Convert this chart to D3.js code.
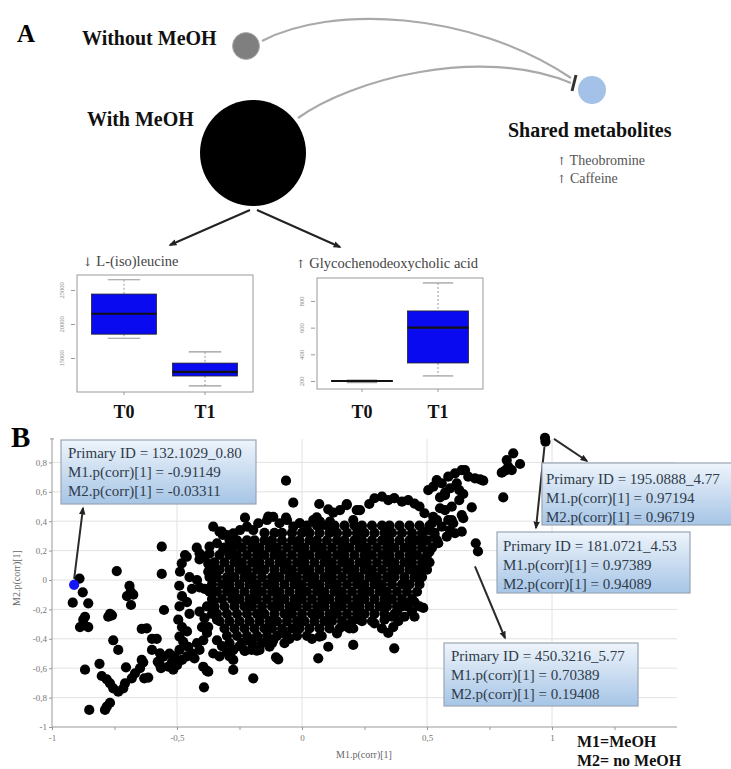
<!DOCTYPE html>
<html>
<head>
<meta charset="utf-8">
<script src="https://cdn.jsdelivr.net/npm/d3@7"></script>
<style>
body { margin: 0; background: #fff; }
svg { display: block; }
svg text { font-family: "Liberation Serif", "Times New Roman", serif; }
</style>
</head>
<body>
<svg width="731" height="769"></svg>
<script>
/// Data ///
var groups = ["T0", "T1"];
// L-(iso)leucine box stats (T0, T1)
var leuMin = [17900, 10900], leuQ1 = [18500, 12350], leuMed = [21500, 12950], leuQ3 = [24400, 14250], leuMax = [26500, 15900];
var leuTicks = [15000, 20000, 25000];
// Glycochenodeoxycholic acid box stats (T0, T1)
var glyMin = [188, 238], glyQ1 = [198, 335], glyMed = [200, 600], glyQ3 = [204, 725], glyMax = [207, 935];
var glyTicks = [200, 400, 600, 800];

var xTicks = [-1, -0.5, 0, 0.5, 1];
var xMinor = [-0.75, -0.25, 0.25, 0.75, 1.25];
var yTicks = [-1, -0.8, -0.6, -0.4, -0.2, 0, 0.2, 0.4, 0.6, 0.8];

// annotated metabolites
var annIds = ["132.1029_0.80", "195.0888_4.77", "181.0721_4.53", "450.3216_5.77"];
var annM1 = [-0.91149, 0.97194, 0.97389, 0.70389];
var annM2 = [-0.03311, 0.96719, 0.94089, 0.19408];

// scattered points around the cloud [M1, M2]
var outliers = [
  [-0.89,0.01],[-0.877,-0.084],[-0.917,-0.154],[-0.855,-0.159],[-0.868,-0.25],[-0.875,-0.27],[-0.888,-0.32],[-0.855,-0.32],[-0.868,-0.61],[-0.851,-0.884],
  [-0.741,0.061],[-0.69,-0.04],[-0.685,-0.08],[-0.675,-0.1],[-0.7,-0.11],[-0.684,-0.17],[-0.768,-0.23],[-0.76,-0.24],[-0.775,-0.25],[-0.755,-0.41],[-0.735,-0.476],[-0.81,-0.57],
  [-0.801,-0.653],[-0.781,-0.676],[-0.768,-0.703],[-0.755,-0.737],[-0.735,-0.76],[-0.715,-0.737],[-0.708,-0.703],[-0.681,-0.669],[-0.704,-0.594],[-0.668,-0.635],[-0.648,-0.6],[-0.631,-0.669],[-0.641,-0.544],[-0.635,-0.56],
  [-0.788,-0.884],[-0.781,-0.862],[-0.768,-0.835],
  [-0.581,-0.40],[-0.641,-0.333],[-0.621,-0.329],[-0.60,-0.40],
  [-0.561,0.227],[-0.561,0.041],[-0.552,-0.204],
  [-0.6,-0.476],[-0.568,-0.499],[-0.555,-0.522],[-0.577,-0.556],[-0.568,-0.578],[-0.564,-0.6],[-0.615,-0.664],
  [-0.491,-0.039],[-0.488,0.056],[-0.481,0.113],[-0.468,0.17],[-0.461,0.158],[-0.421,0.22],
  [-0.41,0.14],[-0.39,0.16],[-0.37,0.18],[-0.375,0.11],
  [-0.45,0.02],[-0.42,0.0],[-0.44,-0.06],[-0.41,-0.05],[-0.39,-0.06],[-0.355,0.02],[-0.375,0.056],
  [-0.48,-0.11],[-0.46,-0.15],[-0.49,-0.18],[-0.45,-0.23],
  [-0.495,-0.27],[-0.48,-0.32],[-0.46,-0.35],[-0.49,-0.385],[-0.475,-0.42],[-0.455,-0.455],[-0.49,-0.476],
  [-0.53,-0.5],[-0.51,-0.52],[-0.52,-0.556],[-0.535,-0.59],[-0.515,-0.61],[-0.5,-0.58],[-0.48,-0.544],[-0.46,-0.52],[-0.43,-0.533],[-0.44,-0.5],[-0.41,-0.476],[-0.42,-0.43],[-0.395,-0.41],[-0.38,-0.36],[-0.40,-0.32],
  [-0.41,-0.215],[-0.38,-0.18],[-0.355,-0.15],[-0.39,-0.26],[-0.36,-0.23],[-0.34,-0.27],[-0.375,-0.32],
  [-0.34,-0.41],[-0.32,-0.45],[-0.355,-0.5],[-0.33,-0.52],[-0.30,-0.49],[-0.275,-0.476],[-0.29,-0.52],[-0.25,-0.45],
  [-0.395,-0.59],[-0.375,-0.624],[-0.392,-0.73],[-0.381,-0.617],[-0.275,-0.612],[-0.275,-0.544],[-0.195,-0.669],
  [-0.228,-0.483],[-0.201,-0.476],[-0.175,-0.471],
  [-0.321,0.329],[-0.317,0.306],[-0.228,0.424],[-0.135,0.431],
  [-0.355,0.363],[-0.33,0.329],[-0.30,0.306],[-0.275,0.318],[-0.248,0.34],[-0.22,0.363],[-0.195,0.34],[-0.175,0.386],[-0.29,0.272],[-0.26,0.238],[-0.34,0.25],[-0.37,0.227],[-0.315,0.204],[-0.41,0.182],
  [-0.14,0.408],[-0.115,0.43],[-0.09,0.386],[-0.06,0.408],[-0.035,0.363],[-0.01,0.386],[0.045,0.408],[0.07,0.363],
  [-0.064,0.676],[-0.035,0.526],[-0.064,0.424],[-0.008,0.386],
  [0.059,0.426],[0.072,0.397],[0.112,0.397],[0.069,0.517],[0.105,0.481],[0.125,0.458],[0.179,0.517],[0.219,0.476],[0.269,0.517],[0.368,0.556],
  [0.152,0.476],[0.179,0.51],[0.232,0.476],[0.205,0.408],
  [-0.215,-0.41],[-0.18,-0.385],[-0.14,-0.42],[-0.115,-0.41],[-0.075,-0.36],[-0.05,-0.40],[-0.02,-0.34],[-0.17,-0.476],[-0.13,-0.454],
  [-0.095,-0.54],[-0.104,-0.526],[0.065,-0.533],[0.205,-0.442],[0.105,-0.454],[0.079,-0.381],
  [0.14,-0.363],[0.18,-0.318],[0.205,-0.33],[0.23,-0.27],[0.04,-0.40],[0.07,-0.385],
  [0.29,-0.295],[0.32,-0.33],[0.345,-0.36],[0.33,-0.27],[0.36,-0.25],[0.38,-0.215],[0.40,-0.18],[0.425,-0.16],[0.45,-0.15],[0.47,-0.18],[0.485,-0.19],[0.44,-0.215],[0.41,-0.25],[0.385,-0.28],[0.365,-0.32],[0.45,-0.25],[0.369,-0.465],
  [0.47,0.50],[0.49,0.454],[0.52,0.386],[0.54,0.408],[0.525,0.43],[0.505,0.34],[0.53,0.306],[0.545,0.25],[0.49,0.272],[0.51,0.193],[0.49,0.136],[0.48,0.068],[0.465,0.022],
  [0.45,0.52],[0.425,0.544],[0.40,0.533],[0.37,0.556],[0.345,0.544],[0.32,0.567],[0.29,0.556],
  [0.572,0.578],[0.599,0.499],[0.572,0.476],[0.552,0.488],[0.585,0.408],[0.605,0.386],[0.559,0.363],[0.592,0.34],[0.612,0.318],[0.579,0.295],
  [0.525,0.635],[0.505,0.612],[0.539,0.68],[0.559,0.658],[0.585,0.703],[0.612,0.726],[0.639,0.748],
  [0.592,0.624],[0.572,0.594],[0.552,0.562],[0.619,0.658],[0.629,0.612],[0.645,0.585],[0.629,0.544],
  [0.652,0.748],[0.665,0.703],[0.692,0.692],[0.712,0.685],[0.725,0.676],
  [0.679,0.494],[0.639,0.442],[0.645,0.42],[0.639,0.329],[0.599,0.408],[0.695,0.25],
  [0.805,0.562],[0.845,0.862],[0.819,0.816],[0.825,0.771],[0.799,0.73],[0.812,0.744],[0.839,0.748],[0.872,0.789]
];

// dense core of the cloud, read row by row: M2 value and the M1 values on it
var cloudY = [0.37, 0.32, 0.27, 0.22, 0.17, 0.12, 0.07, 0.02, -0.03, -0.08, -0.13, -0.18, -0.23, -0.28, -0.33, -0.38, -0.43, -0.48];
var cloudX = [
  [0.02,0.06,0.10,0.13,0.17,0.21,0.24,0.28,0.32,0.35,0.39,0.43,0.47,0.51],
  [-0.15,-0.11,-0.08,-0.04,0.00,0.03,0.07,0.11,0.14,0.18,0.22,0.25,0.29,0.33,0.36,0.40,0.44,0.48,0.53],
  [-0.26,-0.22,-0.19,-0.15,-0.12,-0.08,-0.04,-0.01,0.03,0.06,0.10,0.14,0.17,0.21,0.24,0.28,0.32,0.35,0.39,0.43,0.46,0.50,0.54],
  [-0.31,-0.28,-0.24,-0.20,-0.17,-0.13,-0.10,-0.06,-0.02,0.01,0.05,0.08,0.12,0.16,0.19,0.23,0.26,0.30,0.34,0.37,0.41,0.44,0.48,0.52],
  [-0.33,-0.29,-0.26,-0.22,-0.18,-0.15,-0.11,-0.08,-0.04,0.00,0.03,0.07,0.10,0.14,0.17,0.21,0.25,0.28,0.32,0.35,0.39,0.43,0.46,0.50],
  [-0.35,-0.31,-0.27,-0.24,-0.20,-0.17,-0.13,-0.09,-0.06,-0.02,0.01,0.05,0.09,0.12,0.16,0.19,0.23,0.26,0.30,0.34,0.37,0.41,0.44,0.48,0.51],
  [-0.36,-0.33,-0.29,-0.25,-0.22,-0.18,-0.15,-0.11,-0.07,-0.04,0.00,0.03,0.07,0.11,0.14,0.18,0.21,0.25,0.28,0.32,0.36,0.39,0.43,0.46,0.50],
  [-0.37,-0.34,-0.30,-0.27,-0.23,-0.20,-0.16,-0.12,-0.09,-0.05,-0.02,0.02,0.05,0.09,0.12,0.16,0.20,0.23,0.27,0.30,0.34,0.37,0.41,0.45,0.48],
  [-0.36,-0.32,-0.29,-0.25,-0.21,-0.18,-0.14,-0.11,-0.07,-0.03,0.00,0.04,0.07,0.11,0.14,0.18,0.22,0.25,0.29,0.32,0.36,0.40,0.43,0.47],
  [-0.37,-0.34,-0.30,-0.27,-0.23,-0.19,-0.16,-0.12,-0.09,-0.05,-0.01,0.02,0.06,0.09,0.13,0.16,0.20,0.24,0.27,0.31,0.34,0.38,0.42,0.46],
  [-0.36,-0.32,-0.28,-0.25,-0.21,-0.18,-0.14,-0.10,-0.07,-0.03,0.00,0.04,0.08,0.11,0.15,0.18,0.22,0.25,0.29,0.33,0.36,0.40,0.44],
  [-0.35,-0.31,-0.27,-0.23,-0.20,-0.16,-0.12,-0.09,-0.05,-0.02,0.02,0.06,0.09,0.13,0.16,0.20,0.23,0.27,0.31,0.34,0.38,0.42],
  [-0.34,-0.30,-0.26,-0.22,-0.18,-0.15,-0.11,-0.07,-0.04,0.00,0.04,0.07,0.11,0.14,0.18,0.22,0.25,0.29,0.33,0.37],
  [-0.33,-0.29,-0.25,-0.21,-0.17,-0.13,-0.10,-0.06,-0.02,0.01,0.05,0.09,0.12,0.16,0.20,0.24,0.28],
  [-0.31,-0.27,-0.23,-0.19,-0.15,-0.12,-0.08,-0.04,-0.01,0.03,0.07,0.11,0.15,0.19],
  [-0.30,-0.26,-0.22,-0.18,-0.14,-0.10,-0.06,-0.02,0.02],
  [-0.29,-0.24,-0.20,-0.16,-0.12,-0.07],
  [-0.28,-0.23,-0.18]
];

/// Settings ///
var svg = d3.select("svg");
var defs = svg.append("defs");

var grad = defs.append("linearGradient").attr("id", "boxfill")
    .attr("x1", 0).attr("y1", 0).attr("x2", 0).attr("y2", 1);
grad.append("stop").attr("offset", "0%").attr("stop-color", "#eef4fb");
grad.append("stop").attr("offset", "100%").attr("stop-color", "#a6c5e6");

defs.append("marker").attr("id", "head")
    .attr("viewBox", "0 0 10 10").attr("refX", 8).attr("refY", 5)
    .attr("markerWidth", 4).attr("markerHeight", 4).attr("orient", "auto")
  .append("path").attr("d", "M0,1 L10,5 L0,9 z").attr("fill", "#222");

// text with a leading arrow glyph (arrow taken from a font that has it)
function arrowText(sel, arrow, label) {
  sel.append("tspan").attr("font-family", "DejaVu Serif").attr("font-size", "0.8em").text(arrow);
  sel.append("tspan").text(" " + label);
  return sel;
}

/// PANEL A ///
svg.append("text").attr("x", 17).attr("y", 42).attr("font-size", 25).attr("font-weight", "bold").text("A");
svg.append("text").attr("x", 82).attr("y", 45).attr("font-size", 20).attr("font-weight", "bold").attr("fill", "#111").text("Without MeOH");
svg.append("text").attr("x", 87).attr("y", 126).attr("font-size", 20).attr("font-weight", "bold").attr("fill", "#111").text("With MeOH");

var arcs = ["M262,41 C330,5 470,10 571,78", "M298,118 C350,80 480,45 571,83"];
svg.selectAll(".arc").data(arcs).enter().append("path")
    .attr("d", function(d) { return d; }).attr("fill", "none")
    .attr("stroke", "#a9a9a9").attr("stroke-width", 2.2);
svg.append("line").attr("x1", 576).attr("y1", 75).attr("x2", 572).attr("y2", 91)
    .attr("stroke", "#333").attr("stroke-width", 3);

svg.append("circle").attr("cx", 246).attr("cy", 46).attr("r", 13.5).attr("fill", "#7f7f7f").attr("stroke", "#b0b0b0").attr("stroke-width", 1);
svg.append("circle").attr("cx", 253).attr("cy", 153).attr("r", 53).attr("fill", "#000");
svg.append("circle").attr("cx", 592).attr("cy", 90).attr("r", 14).attr("fill", "#a4c2e8");

svg.append("text").attr("x", 508).attr("y", 137).attr("font-size", 20).attr("font-weight", "bold").attr("fill", "#111").text("Shared metabolites");
arrowText(svg.append("text").attr("x", 557).attr("y", 165).attr("font-size", 14).attr("fill", "#555"), "\u2191", "Theobromine");
arrowText(svg.append("text").attr("x", 557).attr("y", 183).attr("font-size", 14).attr("fill", "#555"), "\u2191", "Caffeine");

svg.append("line").attr("x1", 250).attr("y1", 210).attr("x2", 170).attr("y2", 245)
    .attr("stroke", "#222").attr("stroke-width", 2).attr("marker-end", "url(#head)");
svg.append("line").attr("x1", 257).attr("y1", 210).attr("x2", 340).attr("y2", 247)
    .attr("stroke", "#222").attr("stroke-width", 2).attr("marker-end", "url(#head)");

function boxPlot(frame, dom, ticks, centers, bw, st, arrow, title, tx, ty) {
  var g = svg.append("g");
  var y = d3.scaleLinear().domain(dom).range([frame.y1, frame.y0]);
  var x = d3.scalePoint().domain(groups).range(centers);

  arrowText(g.append("text").attr("x", tx).attr("y", ty).attr("font-size", 14.5).attr("fill", "#444"), arrow, title);
  g.append("rect").attr("x", frame.x0).attr("y", frame.y0)
      .attr("width", frame.x1 - frame.x0).attr("height", frame.y1 - frame.y0)
      .attr("fill", "none").attr("stroke", "#9a9a9a").attr("stroke-width", 1);

  var ya = d3.axisLeft(y).tickValues(ticks).tickSize(4).tickFormat(d3.format("d"));
  var ay = g.append("g").attr("transform", "translate(" + (frame.x0 - 2) + ",0)").call(ya);
  ay.select(".domain").remove();
  ay.selectAll("line").attr("stroke", "#999");
  ay.selectAll("text").attr("font-size", 6.5).attr("fill", "#888").attr("font-family", "Liberation Serif")
      .attr("x", 0).attr("dy", null).attr("text-anchor", "middle")
      .attr("transform", "translate(-11,0) rotate(-90)");

  groups.forEach(function(grp, i) {
    var cx = x(grp);
    g.append("line").attr("x1", cx).attr("x2", cx).attr("y1", frame.y1).attr("y2", frame.y1 + 3).attr("stroke", "#999");
    g.append("line").attr("x1", cx).attr("x2", cx).attr("y1", y(st.max[i])).attr("y2", y(st.q3[i]))
        .attr("stroke", "#999").attr("stroke-dasharray", "2,2");
    g.append("line").attr("x1", cx).attr("x2", cx).attr("y1", y(st.q1[i])).attr("y2", y(st.min[i]))
        .attr("stroke", "#999").attr("stroke-dasharray", "2,2");
    [st.max[i], st.min[i]].forEach(function(v) {
      g.append("line").attr("x1", cx - bw / 4).attr("x2", cx + bw / 4).attr("y1", y(v)).attr("y2", y(v))
          .attr("stroke", "#999").attr("stroke-width", 1.2);
    });
    g.append("rect").attr("x", cx - bw / 2).attr("y", y(st.q3[i]))
        .attr("width", bw).attr("height", Math.max(1, y(st.q1[i]) - y(st.q3[i])))
        .attr("fill", "#0a0af0").attr("stroke", "#222").attr("stroke-width", 0.8);
    g.append("line").attr("x1", cx - bw / 2).attr("x2", cx + bw / 2).attr("y1", y(st.med[i])).attr("y2", y(st.med[i]))
        .attr("stroke", "#111").attr("stroke-width", 2.2);
    g.append("text").attr("x", cx).attr("y", 418).attr("text-anchor", "middle")
        .attr("font-size", 18).attr("font-weight", "bold").attr("fill", "#111").text(grp);
  });
}

boxPlot({x0: 77, x1: 253, y0: 275, y1: 392}, [10000, 27200], leuTicks, [124, 205], 65,
  {min: leuMin, q1: leuQ1, med: leuMed, q3: leuQ3, max: leuMax}, "\u2193", "L-(iso)leucine", 83, 266);
boxPlot({x0: 317, x1: 483, y0: 278, y1: 389}, [140, 972], glyTicks, [362, 438], 61,
  {min: glyMin, q1: glyQ1, med: glyMed, q3: glyQ3, max: glyMax}, "\u2191", "Glycochenodeoxycholic acid", 296, 268);

/// PANEL B ///
var x = d3.scaleLinear().domain([-1, 1.5]).range([52, 677]);
var y = d3.scaleLinear().domain([-1, 1]).range([727, 433]);
var yTop = y(0.96);

svg.append("text").attr("x", 11).attr("y", 447).attr("font-size", 29).attr("font-weight", "bold").text("B");

var grid = svg.append("g").attr("stroke", "#e2e2e2").attr("stroke-width", 1);
grid.selectAll(".gy").data(yTicks.filter(function(d) { return d > -1; })).enter().append("line")
    .attr("x1", x(-1)).attr("x2", x(1.5)).attr("y1", function(d) { return y(d); }).attr("y2", function(d) { return y(d); });
grid.selectAll(".gx").data(xTicks.filter(function(d) { return d > -1; })).enter().append("line")
    .attr("y1", yTop).attr("y2", y(-1)).attr("x1", function(d) { return x(d); }).attr("x2", function(d) { return x(d); });

var fmt = function(d) { return String(Math.round(d * 10) / 10).replace(".", ","); };

var ax = svg.append("g").attr("transform", "translate(0," + y(-1) + ")")
    .call(d3.axisBottom(x).tickValues(xTicks.concat(xMinor)).tickSize(3).tickFormat(function(d) {
      return xTicks.indexOf(d) >= 0 ? fmt(d) : "";
    }));
ax.select(".domain").attr("stroke", "#999").attr("d", "M" + x(-1) + ",0H" + x(1.5));
ax.selectAll("line").attr("stroke", "#999");
ax.selectAll("text").attr("font-size", 9).attr("fill", "#777").attr("font-family", "Liberation Serif").attr("dy", "0.9em");

var ay = svg.append("g").attr("transform", "translate(" + x(-1) + ",0)")
    .call(d3.axisLeft(y).tickValues(yTicks).tickSize(3).tickFormat(fmt));
ay.select(".domain").attr("stroke", "#999").attr("d", "M0," + y(-1) + "V" + yTop);
ay.selectAll("line").attr("stroke", "#999");
ay.selectAll("text").attr("font-size", 9).attr("fill", "#777").attr("font-family", "Liberation Serif").attr("x", -5);
ay.append("line").attr("x1", -2).attr("x2", 2).attr("y1", yTop).attr("y2", yTop).attr("stroke", "#999");

svg.append("text").attr("x", 364).attr("y", 758).attr("text-anchor", "middle").attr("font-size", 10)
    .attr("fill", "#666").text("M1.p(corr)[1]");
svg.append("text").attr("transform", "translate(20,578) rotate(-90)").attr("text-anchor", "middle")
    .attr("font-size", 10).attr("fill", "#666").text("M2.p(corr)[1]");

var cloud = [];
cloudY.forEach(function(v, i) { cloudX[i].forEach(function(u) { cloud.push([u, v]); }); });
var pts = outliers.concat(cloud);

var R = 5.1;
svg.append("g").selectAll("circle").data(pts).enter().append("circle")
    .attr("cx", function(d) { return x(d[0]); })
    .attr("cy", function(d) { return y(d[1]); })
    .attr("r", R).attr("fill", "#000");

var ann = annIds.map(function(id, i) { return {id: id, m1: annM1[i], m2: annM2[i]}; });
svg.append("g").selectAll("circle").data(ann).enter().append("circle")
    .attr("cx", function(d) { return x(d.m1); })
    .attr("cy", function(d) { return y(d.m2); })
    .attr("r", R).attr("fill", function(d, i) { return i === 0 ? "#1515f5" : "#000"; });

// callout layout: box, text origin, arrow end
var callouts = [
  {bx: 61, by: 440, bw: 195, bh: 64, tx: 68, ty: 458, ex: 83, ey: 508},
  {bx: 542, by: 463, bw: 200, bh: 62, tx: 546, ty: 484, ex: 587, ey: 461},
  {bx: 497, by: 532, bw: 193, bh: 61, tx: 503, ty: 551, ex: 536, ey: 528},
  {bx: 444, by: 643, bw: 194, bh: 63, tx: 451, ty: 661, ex: 505, ey: 638}
];
var startOff = [[0, -6], [9, 1], [-1, 5], [-3, 15]];

ann.forEach(function(d, i) {
  var c = callouts[i];
  svg.append("line")
      .attr("x1", x(d.m1) + startOff[i][0]).attr("y1", y(d.m2) + startOff[i][1])
      .attr("x2", c.ex).attr("y2", c.ey)
      .attr("stroke", "#2a2a2a").attr("stroke-width", 2).attr("marker-end", "url(#head)");
});

ann.forEach(function(d, i) {
  var c = callouts[i];
  var g = svg.append("g");
  g.append("rect").attr("x", c.bx).attr("y", c.by).attr("width", c.bw).attr("height", c.bh)
      .attr("fill", "url(#boxfill)").attr("stroke", "#9aa6b4").attr("stroke-width", 1.2);
  var lines = ["Primary ID = " + d.id,
               "M1.p(corr)[1] = " + d3.format(".5f")(d.m1).replace("\u2212", "-"),
               "M2.p(corr)[1] = " + d3.format(".5f")(d.m2).replace("\u2212", "-")];
  g.selectAll("text").data(lines).enter().append("text")
      .attr("x", c.tx).attr("y", function(t, k) { return c.ty + k * 19; })
      .attr("font-size", 15).attr("fill", "#2f3b4a").text(function(t) { return t; });
});

svg.append("text").attr("x", 577).attr("y", 747).attr("font-size", 16).attr("font-weight", "bold").attr("fill", "#111").text("M1=MeOH");
svg.append("text").attr("x", 577).attr("y", 766).attr("font-size", 16).attr("font-weight", "bold").attr("fill", "#111").text("M2= no MeOH");
</script>
</body>
</html>
